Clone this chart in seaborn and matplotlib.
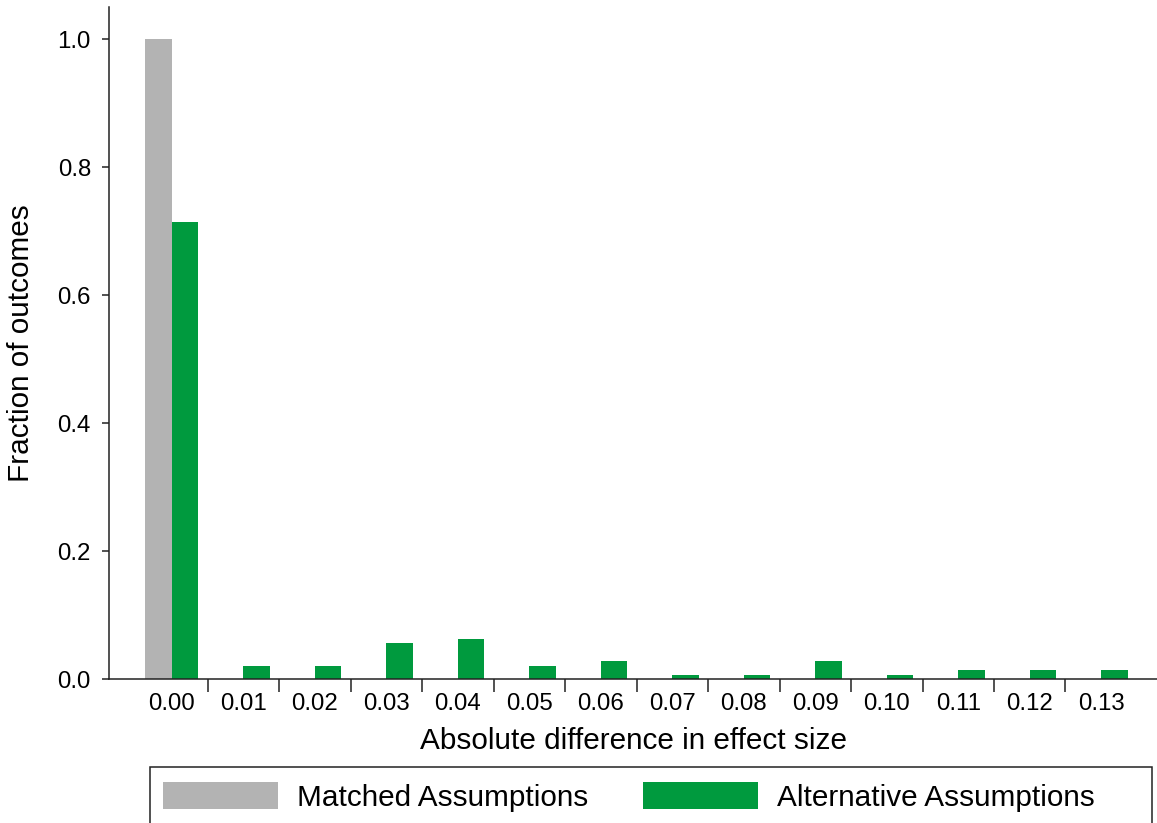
import matplotlib
matplotlib.use('Agg')
import matplotlib.pyplot as plt
from matplotlib.patches import Rectangle
from matplotlib.ticker import FixedLocator
import pandas as pd
import seaborn as sns

# values
categories = ['0.00', '0.01', '0.02', '0.03', '0.04', '0.05', '0.06',
              '0.07', '0.08', '0.09', '0.10', '0.11', '0.12', '0.13']
matched = [1.0, 0, 0, 0, 0, 0, 0, 0, 0, 0, 0, 0, 0, 0]
alternative = [0.714, 0.020, 0.020, 0.056, 0.063, 0.020, 0.028,
               0.007, 0.007, 0.028, 0.007, 0.014, 0.014, 0.014]
series_names = ['Matched Assumptions', 'Alternative Assumptions']
colors = ['#b3b3b3', '#009a3e']

df = pd.DataFrame({
    'diff': categories * 2,
    'frac': matched + alternative,
    'series': [series_names[0]] * len(categories) + [series_names[1]] * len(categories),
})

sns.set_style('white')
plt.rcParams['font.family'] = ['Liberation Sans', 'DejaVu Sans']
plt.rcParams['text.color'] = 'black'
plt.rcParams['axes.labelcolor'] = 'black'

fig = plt.figure(figsize=(11.57, 8.23), dpi=100)
ax = fig.add_axes([109 / 1157, 1 - 679 / 823, 1 - 109 / 1157, (679 - 7) / 823])

sns.barplot(data=df, x='diff', y='frac', hue='series', order=categories,
            hue_order=series_names, palette=colors, width=0.74,
            linewidth=0, saturation=1, ax=ax, legend=True)

ax.set_xlim(-0.88, 13.78)
ax.set_ylim(0, 1.05)
ax.set_yticks([0, 0.2, 0.4, 0.6, 0.8, 1.0])
ax.set_yticklabels(['0.0', '0.2', '0.4', '0.6', '0.8', '1.0'])

# tick marks sit between the categories, labels at the centres
ax.xaxis.set_minor_locator(FixedLocator([i + 0.5 for i in range(len(categories) - 1)]))
ax.tick_params(axis='x', which='major', length=0, pad=10, labelsize=17.3, labelcolor='black')
ax.tick_params(axis='x', which='minor', length=9.5, width=1.1, direction='out',
               color='#222222', bottom=True)
ax.tick_params(axis='y', which='major', length=5, width=1.1, direction='out',
               pad=8, labelsize=17.3, left=True, color='#222222', labelcolor='black')

ax.set_xlabel('Absolute difference in effect size', fontsize=21.4, labelpad=9)
ax.set_ylabel('Fraction of outcomes', fontsize=21.4, labelpad=16)

sns.despine(ax=ax)
for s in ['left', 'bottom']:
    ax.spines[s].set_color('#222222')
    ax.spines[s].set_linewidth(1.1)

# legend below the plot, with an open-bottomed frame
handles, labels = ax.get_legend_handles_labels()
ax.get_legend().remove()
fig.legend(handles, labels, loc='center left', ncol=2, frameon=False,
           bbox_to_anchor=(163 / 1157, 1 - 797 / 823), borderpad=0, borderaxespad=0,
           handlelength=3.86, handleheight=1.04, handletextpad=0.64,
           columnspacing=1.85, fontsize=21.4)
fig.patches.append(Rectangle((150 / 1157, -0.05), (1152 - 150) / 1157, 0.05 + 1 - 767 / 823,
                             transform=fig.transFigure, fill=False,
                             edgecolor='#222222', linewidth=1.1))

fig.savefig('out.png', dpi=100)
